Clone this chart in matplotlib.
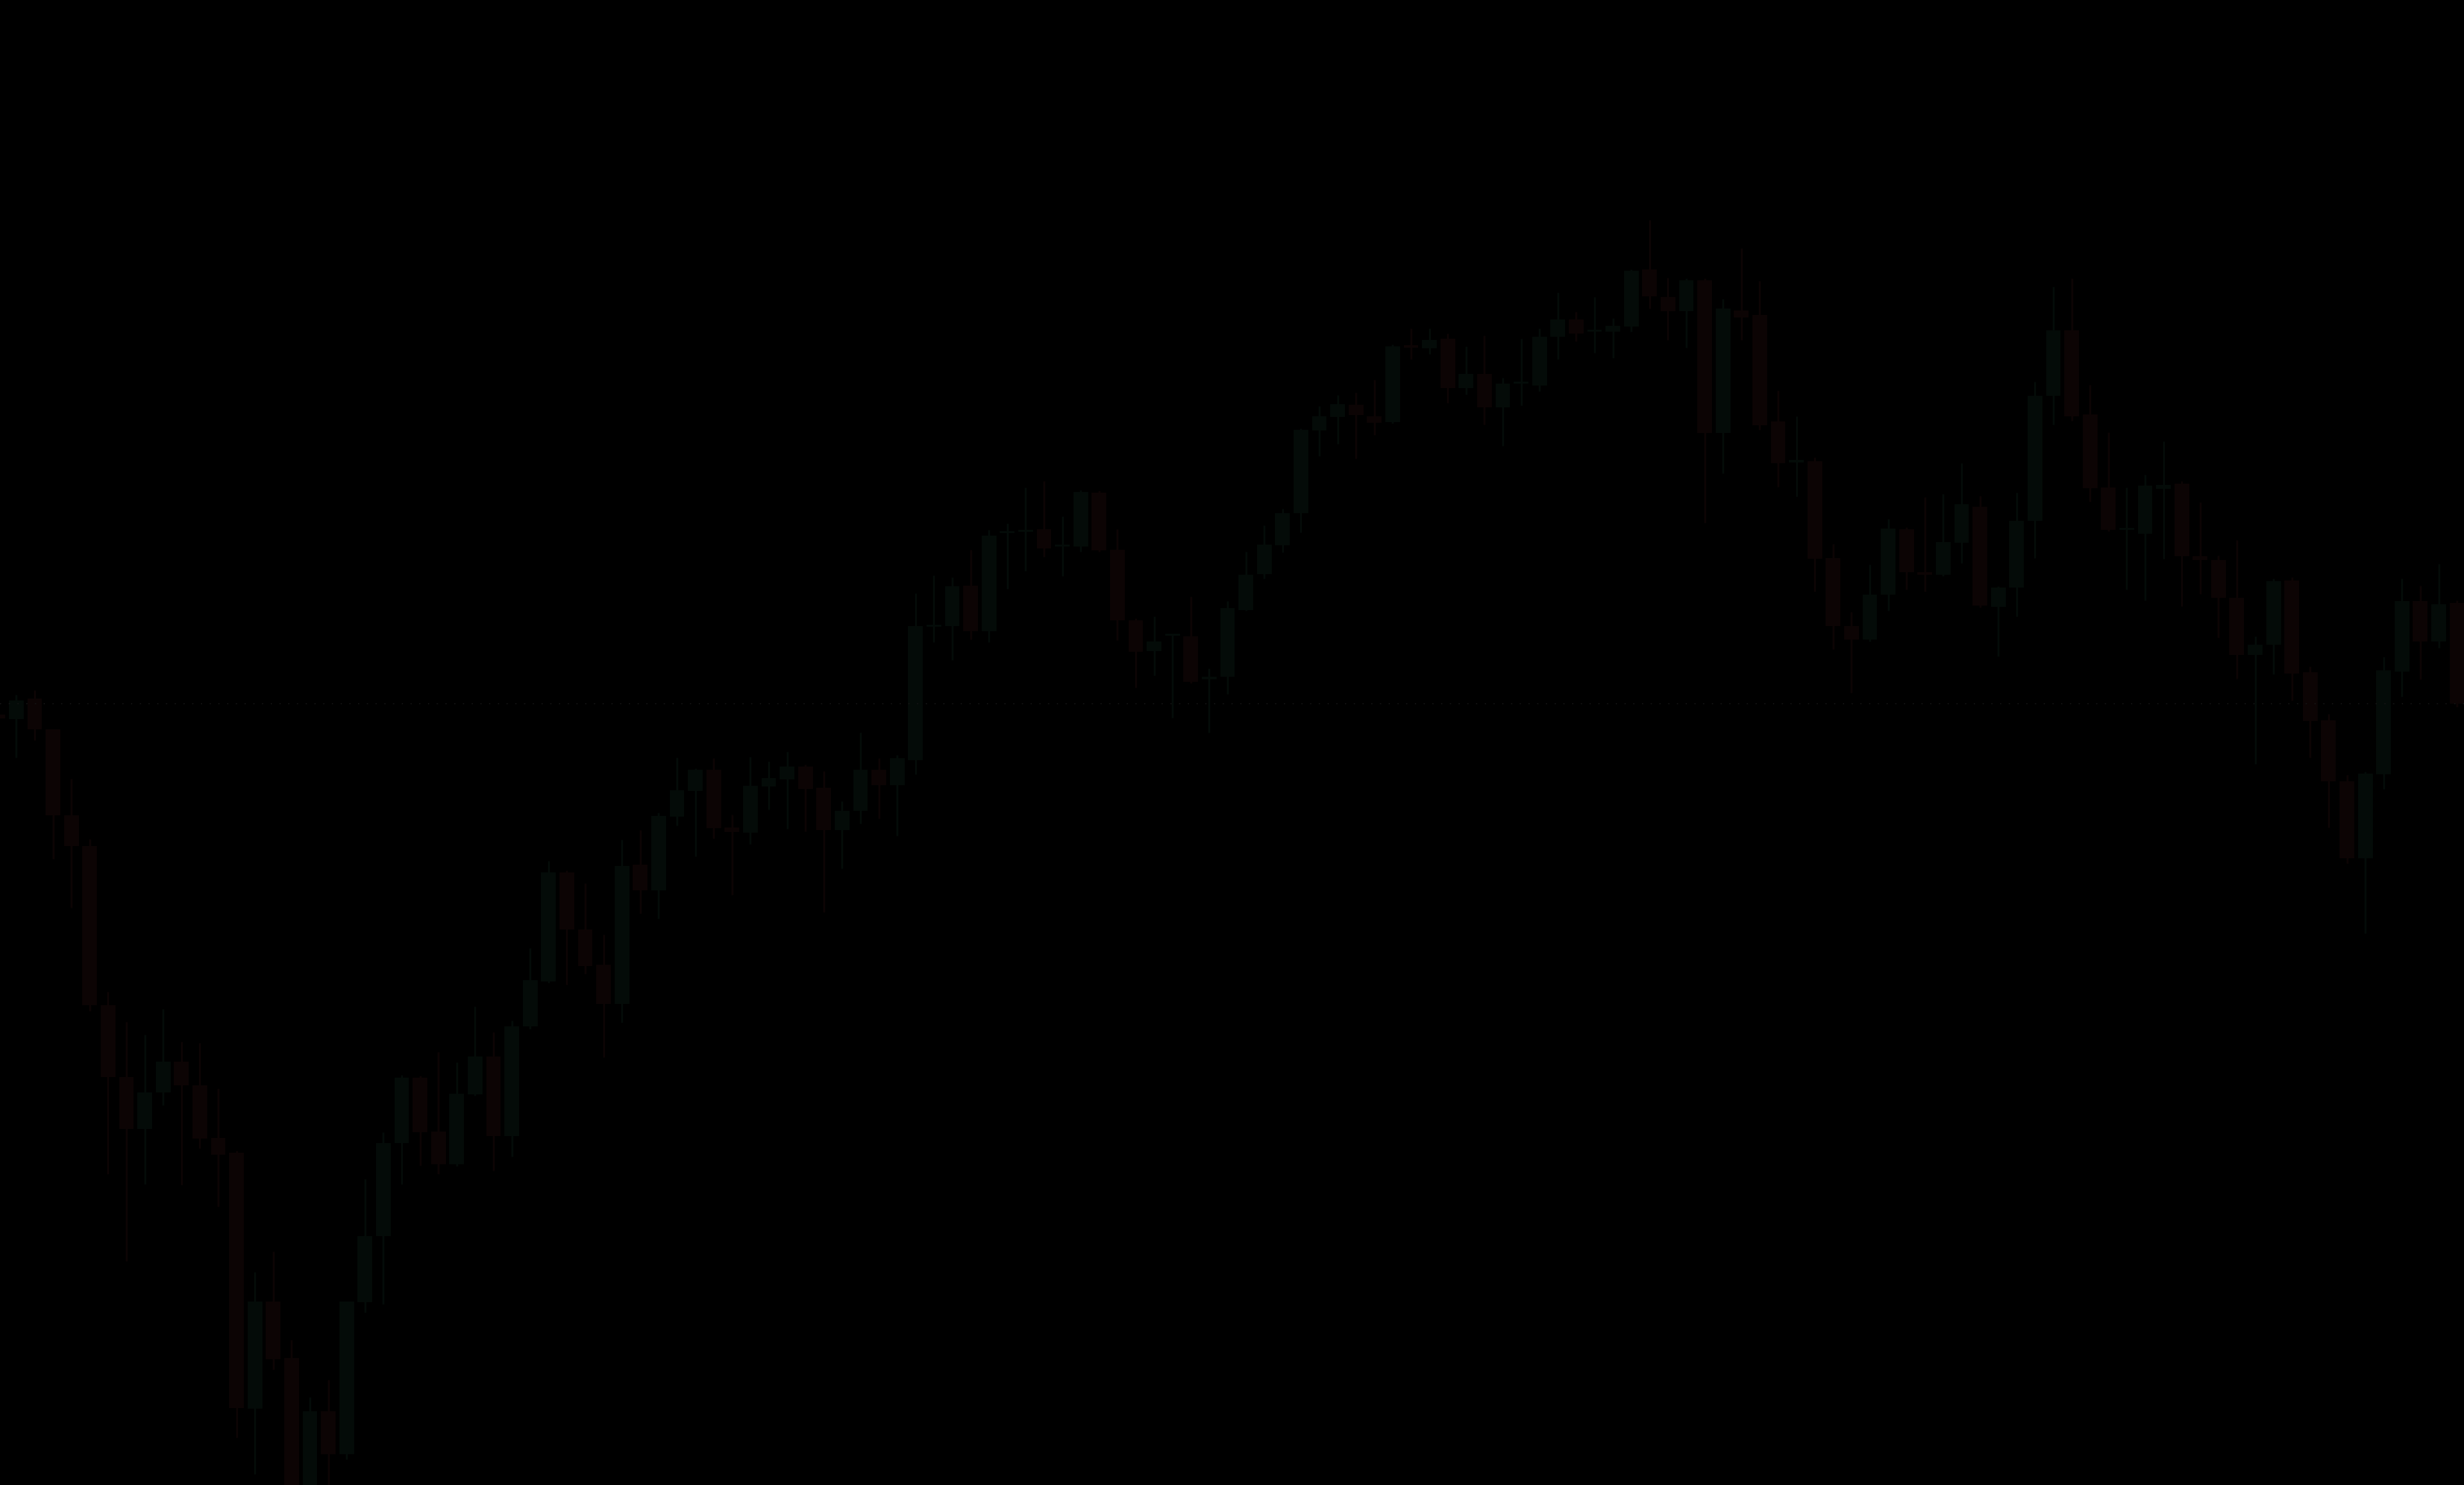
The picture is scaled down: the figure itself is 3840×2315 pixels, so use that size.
import numpy as np
import matplotlib
matplotlib.use("Agg")
import matplotlib.pyplot as plt

# OHLC, one candle per session (first one is cut by the left edge)
opens = [120.1, 119.4, 122.6, 117.8, 104.4, 99.6, 74.8, 63.6, 55.5, 61.2,
         66.0, 62.3, 54.1, 51.8, 11.9, 28.6, 19.8, -0.5, 11.5, 4.8,
         28.5, 38.8, 53.3, 63.5, 55.1, 50.0, 60.9, 66.8, 54.4, 71.5,
         78.5, 95.5, 86.6, 81.1, 75.0, 96.7, 92.7, 104.2, 108.2, 111.5,
         102.5, 101.7, 108.9, 110.0, 112.0, 108.7, 102.1, 105.1, 111.5, 109.1,
         113.0, 133.8, 133.9, 140.2, 133.1, 148.4, 148.6, 149.0, 146.3, 146.3,
         154.7, 145.8, 134.8, 130.0, 132.4, 132.3, 125.6, 126.0, 136.4, 142.0,
         146.5, 151.5, 164.4, 166.5, 168.4, 166.6, 165.7, 177.7, 177.2, 178.7,
         171.0, 173.2, 168.0, 171.7, 171.4, 179.0, 181.7, 179.8, 179.8, 180.6,
         189.5, 185.2, 183.0, 187.8, 164.0, 183.1, 182.4, 165.8, 159.4, 159.6,
         144.5, 133.9, 131.8, 138.8, 149.0, 142.3, 141.9, 146.9, 152.5, 136.9,
         139.9, 150.3, 169.8, 180.0, 166.9, 155.5, 148.9, 148.3, 155.3, 156.1,
         144.8, 144.2, 138.3, 129.4, 131.0, 141.0, 126.7, 119.2, 109.7, 97.7,
         110.8, 126.8, 137.8, 131.5, 137.5]
highs = [120.7, 123.2, 123.9, 117.8, 110.1, 100.7, 76.9, 72.2, 70.2, 74.2,
         69.1, 68.9, 61.8, 52.1, 33.2, 36.4, 22.6, 13.7, 16.4, 28.6,
         47.7, 55.0, 63.9, 63.8, 67.5, 65.9, 74.6, 70.6, 72.4, 83.7,
         97.3, 95.8, 93.8, 85.8, 100.6, 102.1, 104.8, 113.4, 111.7, 113.3,
         104.5, 113.5, 112.8, 114.3, 112.3, 111.3, 106.6, 117.3, 113.3, 113.8,
         139.0, 141.8, 141.5, 145.8, 148.9, 149.9, 155.5, 156.5, 151.0, 155.1,
         155.0, 149.0, 135.1, 135.4, 132.7, 138.5, 127.3, 137.8, 145.5, 149.6,
         152.2, 164.7, 168.2, 169.9, 170.3, 172.3, 177.8, 180.3, 180.3, 179.5,
         177.5, 179.2, 172.6, 178.7, 180.3, 185.9, 182.9, 185.2, 181.9, 189.5,
         197.2, 188.2, 188.1, 188.1, 184.9, 192.8, 187.7, 170.6, 166.6, 160.2,
         146.7, 136.1, 143.5, 150.6, 149.3, 154.0, 154.5, 159.3, 154.2, 140.1,
         154.7, 172.0, 186.8, 188.1, 171.5, 164.1, 155.5, 157.5, 162.7, 156.5,
         153.2, 144.9, 147.3, 132.3, 141.3, 141.5, 127.6, 120.2, 110.7, 111.2,
         129.1, 141.3, 140.2, 143.6, 137.9]
lows = [118.7, 113.4, 116.1, 97.6, 90.0, 73.9, 48.5, 34.9, 46.9, 59.2,
        46.8, 52.5, 43.4, 7.4, 1.7, 18.0, -2.0, -1.5, -1.0, 4.0,
        26.9, 28.2, 46.9, 49.8, 48.5, 49.7, 60.7, 49.0, 51.2, 71.1,
        78.3, 78.0, 79.7, 66.7, 72.1, 89.1, 88.3, 102.8, 98.0, 100.8,
        92.0, 99.9, 105.3, 102.3, 101.9, 89.3, 96.1, 103.1, 103.9, 101.2,
        110.8, 131.4, 128.6, 131.8, 131.4, 139.7, 142.5, 144.7, 141.7, 145.5,
        145.5, 131.7, 124.3, 126.2, 119.6, 125.0, 117.3, 123.3, 136.3, 141.3,
        145.4, 148.5, 160.4, 162.3, 160.0, 163.7, 165.5, 175.5, 176.3, 168.7,
        170.0, 165.3, 162.0, 168.3, 170.5, 175.5, 178.3, 176.5, 175.7, 179.8,
        183.4, 178.5, 177.3, 150.0, 157.7, 178.5, 164.5, 155.6, 154.1, 139.3,
        130.3, 123.5, 131.5, 136.3, 139.6, 139.3, 141.7, 143.7, 136.8, 129.2,
        135.4, 144.5, 165.3, 165.9, 153.3, 148.7, 139.6, 137.9, 144.4, 137.0,
        138.9, 132.1, 125.7, 112.4, 126.4, 122.3, 113.4, 102.5, 96.9, 86.0,
        108.5, 122.9, 125.6, 130.5, 121.3]
closes = [119.5, 122.3, 117.8, 104.4, 99.6, 74.8, 63.6, 55.5, 61.2, 66.0,
          62.3, 54.0, 51.5, 12.0, 28.6, 19.6, -0.5, 11.5, 4.8, 28.6,
          38.8, 53.3, 63.5, 55.0, 50.0, 61.0, 66.8, 54.4, 71.5, 78.7,
          95.5, 86.6, 80.9, 75.0, 96.5, 92.7, 104.3, 108.3, 111.5, 102.4,
          101.8, 109.0, 110.2, 112.0, 108.5, 102.1, 105.1, 111.5, 109.1, 113.3,
          133.9, 134.1, 140.1, 133.1, 148.0, 148.7, 148.9, 146.0, 146.5, 154.8,
          145.7, 134.8, 129.9, 131.5, 132.6, 125.2, 126.0, 136.7, 141.9, 146.6,
          151.5, 164.5, 166.6, 168.5, 166.8, 165.6, 177.5, 177.3, 178.5, 171.0,
          173.2, 168.0, 171.7, 171.9, 179.0, 181.7, 179.5, 180.1, 180.7, 189.3,
          185.3, 183.0, 187.8, 164.0, 183.4, 182.0, 165.2, 159.3, 159.8, 144.4,
          133.9, 131.8, 138.8, 149.1, 142.3, 141.9, 147.0, 152.9, 137.1, 139.9,
          150.3, 169.8, 180.0, 166.6, 155.4, 148.9, 149.2, 155.8, 155.9, 144.8,
          144.2, 138.3, 129.4, 131.0, 140.9, 126.5, 119.1, 109.7, 97.7, 110.9,
          127.0, 137.8, 131.5, 137.3, 121.8]

o = np.array(opens)
h = np.array(highs)
l = np.array(lows)
c = np.array(closes)
x = np.arange(len(o))

up_color = "#040b08"
down_color = "#0c0404"
colors = np.where(c >= o, up_color, down_color)

fig = plt.figure(figsize=(38.4, 23.15), dpi=100, facecolor="black")
ax = fig.add_axes([0, 0, 1, 1])
ax.set_facecolor("black")

# wicks first, bodies on top
ax.vlines(x, l, h, colors=colors, linewidth=2.2)
ax.bar(x, np.maximum(np.abs(c - o), 0.3), bottom=np.minimum(o, c),
       width=0.8, color=colors, linewidth=0)

# last price line
ax.axhline(c[-1], color="#121212", linewidth=1.4, linestyle=(0, (1, 6)))

ax.set_xlim(0.112, 134.38)
ax.set_ylim(0, 231.5)
ax.axis("off")

fig.savefig("out.png", dpi=100, facecolor="black")
